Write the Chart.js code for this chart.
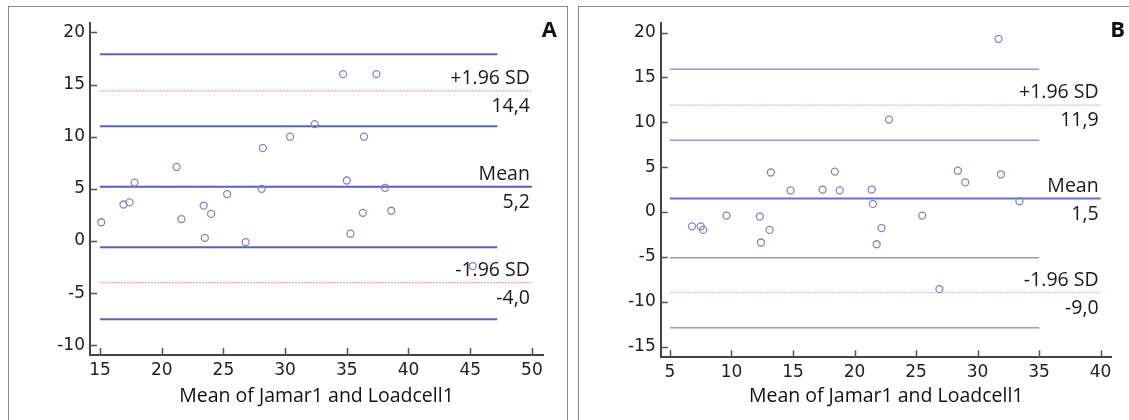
<!DOCTYPE html>
<html>
<head>
  <meta charset="UTF-8">
  <title>Bland-Altman</title>
  <style>
    body { margin: 0; background: #fff; overflow: hidden; }
    .frame { position: absolute; top: 6px; width: 560px; height: 440px; box-sizing: border-box; border: 1.5px solid #8a8a8a; }
    .box { position: absolute; top: 0; height: 420px; }
  </style>
</head>
<body>
<div class="frame" style="left: 8px;"></div>
<div class="frame" style="left: 578px;"></div>
<div class="box" style="left: 0; width: 570px;"><canvas id="chartA"></canvas></div>
<div class="box" style="left: 570px; width: 559px;"><canvas id="chartB"></canvas></div>
<script src="https://cdn.jsdelivr.net/npm/chart.js"></script>
<script>
// panel A
const aX = [15.1, 16.9, 17.4, 17.8, 21.2, 21.6, 23.4, 23.5, 24.0, 25.3, 26.8, 28.2, 28.1,
            30.4, 32.4, 34.7, 37.4, 36.4, 35.0, 38.1, 36.3, 38.6, 35.3, 45.2];
const aY = [1.8, 3.5, 3.7, 5.6, 7.1, 2.1, 3.4, 0.3, 2.6, 4.5, -0.1, 8.9, 5.0,
            10.0, 11.2, 16.0, 16.0, 10.0, 5.8, 5.1, 2.7, 2.9, 0.7, -2.4];
const aLimits = [14.4, 5.2, -4.0];
const aLimitText = ['+1.96 SD', 'Mean', '-1.96 SD'];
const aLimitNums = ['14,4', '5,2', '-4,0'];
const aCI = [17.9, 11.0, -0.6, -7.5];
const aXTicks = [15, 20, 25, 30, 35, 40, 45, 50];
const aYTicks = [-10, -5, 0, 5, 10, 15, 20];

// panel B
const bX = [6.8, 7.5, 7.7, 9.6, 12.3, 12.4, 13.1, 13.2, 14.8, 17.4, 18.4, 18.8,
            21.4, 21.5, 22.2, 21.8, 22.8, 25.5, 26.9, 28.4, 29.0, 31.7, 31.9, 33.4];
const bY = [-1.6, -1.6, -2.0, -0.4, -0.5, -3.4, -2.0, 4.4, 2.4, 2.5, 4.5, 2.4,
            2.5, 0.9, -1.8, -3.6, 10.3, -0.4, -8.6, 4.6, 3.3, 19.3, 4.2, 1.2];
const bLimits = [11.9, 1.5, -9.0];
const bLimitText = ['+1.96 SD', 'Mean', '-1.96 SD'];
const bLimitNums = ['11,9', '1,5', '-9,0'];
const bCI = [15.9, 8.0, -5.1, -12.9];
const bXTicks = [5, 10, 15, 20, 25, 30, 35, 40];
const bYTicks = [-15, -10, -5, 0, 5, 10, 15, 20];

const xTitle = 'Mean of Jamar1 and Loadcell1';

function hline(v, x0, x1, color, width, dash) {
  return {
    data: [{x: x0, y: v}, {x: x1, y: v}],
    showLine: true, pointRadius: 0, borderColor: color,
    borderWidth: width, borderDash: dash || [], order: 2
  };
}

const decor = {
  id: 'decor',
  afterDatasetsDraw(chart, args, o) {
    const ctx = chart.ctx, xs = chart.scales.x, ys = chart.scales.y, ca = chart.chartArea;
    ctx.save();
    // ticks drawn inside the axes
    ctx.strokeStyle = '#555';
    ctx.lineWidth = 1.5;
    ctx.beginPath();
    o.xTicks.forEach(v => {
      const p = Math.round(xs.getPixelForValue(v)) + 0.5;
      ctx.moveTo(p, ca.bottom); ctx.lineTo(p, ca.bottom - 7);
    });
    o.yTicks.forEach(v => {
      const p = Math.round(ys.getPixelForValue(v)) + 0.5;
      ctx.moveTo(ca.left, p); ctx.lineTo(ca.left + 7, p);
    });
    ctx.stroke();
    // limit labels
    ctx.fillStyle = '#1a1a1a';
    ctx.font = '19.5px "Open Sans"';
    ctx.textAlign = 'right';
    ctx.textBaseline = 'alphabetic';
    const xr = xs.getPixelForValue(o.xEnd) - 2;
    o.limits.forEach((v, i) => {
      const p = ys.getPixelForValue(v);
      ctx.fillText(o.names[i], xr, p - 7);
      ctx.fillText(o.nums[i], xr, p + 21);
    });
    // panel letter
    ctx.font = 'bold 22px "Open Sans"';
    ctx.fillStyle = '#111';
    ctx.fillText(o.letter, o.letterX, 37);
    ctx.restore();
  }
};

function makeChart(id, c) {
  const datasets = [{
    data: c.xs.map((x, i) => ({x: x, y: c.ys[i]})),
    pointRadius: 3.5, pointHoverRadius: 3.5,
    backgroundColor: 'rgba(0,0,0,0)', borderColor: '#8484c8', borderWidth: 1.3, order: 1
  }];
  c.ci.forEach(v => datasets.push(hline(v, c.xStart, c.ciEnd, c.ciColor, c.ciWidth)));
  datasets.push(hline(c.limits[0], c.xStart, c.xEnd, c.sdColor, 1.3, [2, 1]));
  datasets.push(hline(c.limits[1], c.xStart, c.xEnd, c.meanColor, 2.2));
  datasets.push(hline(c.limits[2], c.xStart, c.xEnd, c.sdColor, 1.3, [2, 1]));

  const tickFont = {family: '"DejaVu Sans"', size: 17};
  return new Chart(document.getElementById(id), {
    type: 'scatter',
    data: {datasets: datasets},
    plugins: [decor],
    options: {
      responsive: true, maintainAspectRatio: false, animation: false,
      layout: {padding: {left: 0, top: 22.7, right: c.padRight, bottom: 0}},
      plugins: {
        legend: {display: false}, tooltip: {enabled: false},
        decor: {xTicks: c.xTicks, yTicks: c.yTicks, limits: c.limits, names: c.names,
                nums: c.nums, xEnd: c.xEnd, letter: c.letter, letterX: c.letterX}
      },
      scales: {
        x: {
          type: 'linear', min: c.xMin, max: c.xMax,
          afterBuildTicks: s => { s.ticks = c.xTicks.map(v => ({value: v})); },
          afterFit: s => { s.height = c.xHeight; },
          grid: {display: false, drawTicks: false},
          border: {display: true, color: '#444', width: 2},
          ticks: {font: tickFont, color: '#222', padding: 5, maxRotation: 0, autoSkip: false},
          title: {display: true, text: xTitle, color: '#111',
                  font: {family: '"Open Sans"', size: 19.5}, padding: {top: 0, bottom: 12}}
        },
        y: {
          type: 'linear', min: c.yMin, max: c.yMax,
          afterBuildTicks: s => { s.ticks = c.yTicks.map(v => ({value: v})); },
          afterFit: s => { s.width = c.yWidth; },
          grid: {display: false, drawTicks: false},
          border: {display: true, color: '#444', width: 2},
          ticks: {font: tickFont, color: '#222', padding: 5, autoSkip: false}
        }
      }
    }
  });
}

makeChart('chartA', {
  xs: aX, ys: aY, limits: aLimits, names: aLimitText, nums: aLimitNums, ci: aCI,
  xTicks: aXTicks, yTicks: aYTicks,
  xMin: 14.19, xMax: 50.9, yMin: -10.93, yMax: 20.93,
  xStart: 15, xEnd: 50, ciEnd: 47.2,
  ciColor: '#5563c6', ciWidth: 2, meanColor: '#5560c4', sdColor: '#e6a8b0',
  yWidth: 90, xHeight: 65, padRight: 27, letter: 'A', letterX: 557
});

makeChart('chartB', {
  xs: bX, ys: bY, limits: bLimits, names: bLimitText, nums: bLimitNums, ci: bCI,
  xTicks: bXTicks, yTicks: bYTicks,
  xMin: 4.25, xMax: 40.9, yMin: -16.2, yMax: 21.1,
  xStart: 5, xEnd: 40, ciEnd: 35,
  ciColor: '#9498dc', ciWidth: 1.5, meanColor: '#6670c8', sdColor: '#ecc4cc',
  yWidth: 90.7, xHeight: 62.7, padRight: 17.3, letter: 'B', letterX: 555
});
</script>
</body>
</html>
